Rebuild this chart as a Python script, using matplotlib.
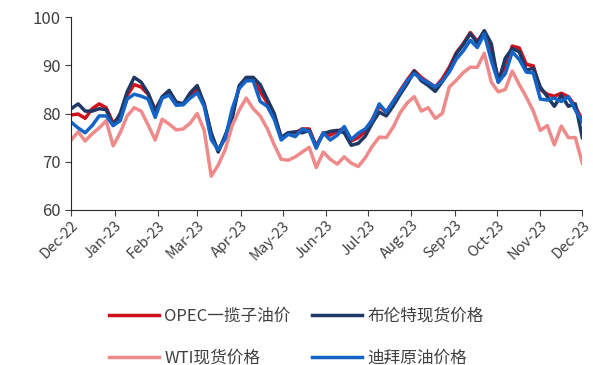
import matplotlib
matplotlib.use('Agg')
import matplotlib.pyplot as plt
import matplotlib.dates as mdates
import pandas as pd

plt.rcParams['font.family'] = ['Liberation Sans Narrow', 'Noto Sans CJK SC', 'DejaVu Sans']

# 数据：每5天取一个点
dates = pd.date_range('2022-12-01', periods=74, freq='5D')

opec = [79.7, 79.9, 79.0, 81.0, 82.0, 81.2, 78.0, 79.5, 83.8, 86.0,
        85.5, 84.0, 80.8, 83.3, 84.3, 82.2, 82.0, 83.8, 85.0, 82.0,
        75.5, 72.3, 75.0, 80.0, 85.5, 87.2, 87.2, 84.5, 82.3, 79.5,
        75.0, 76.0, 76.0, 76.8, 76.8, 73.2, 76.0, 75.5, 76.3, 77.0,
        74.3, 75.0, 76.3, 78.8, 81.5, 80.3, 82.5, 84.8, 87.0, 88.9,
        87.5, 86.5, 85.5, 87.2, 89.6, 92.6, 94.5, 96.8, 95.0, 97.0,
        93.0, 87.2, 89.8, 94.0, 93.6, 90.2, 89.9, 85.0, 84.0, 83.6,
        84.2, 83.5, 81.5, 78.6]

brent = [81.0, 82.0, 80.5, 80.5, 81.0, 80.8, 77.5, 80.0, 84.5, 87.5,
         86.5, 84.2, 80.5, 83.5, 84.8, 82.4, 82.0, 84.3, 85.8, 82.0,
         76.0, 72.0, 75.5, 79.0, 85.8, 87.5, 87.5, 86.0, 83.0, 80.0,
         75.0, 76.0, 76.2, 76.0, 76.5, 73.2, 75.8, 76.3, 76.5, 76.0,
         73.4, 73.8, 75.3, 78.0, 80.3, 79.5, 81.6, 84.0, 86.2, 88.8,
         86.8, 85.8, 84.6, 86.6, 89.0, 92.4, 94.3, 96.6, 94.6, 97.2,
         94.5, 86.5, 91.5, 93.5, 92.8, 89.0, 89.4, 85.5, 83.5, 81.5,
         83.8, 81.5, 82.0, 75.0]

wti = [74.5, 76.2, 74.3, 75.8, 77.0, 78.5, 73.3, 76.0, 79.5, 81.2,
       80.5, 77.6, 74.5, 78.8, 77.8, 76.6, 76.8, 78.0, 80.0, 76.5,
       67.0, 69.3, 72.5, 77.5, 80.7, 83.2, 81.0, 79.5, 76.9, 73.5,
       70.5, 70.3, 71.0, 72.0, 73.0, 68.8, 72.0, 70.5, 69.5, 71.0,
       69.7, 69.0, 70.8, 73.2, 75.1, 75.0, 77.2, 80.2, 82.2, 83.5,
       80.5, 81.2, 79.0, 80.0, 85.5, 86.9, 88.5, 89.6, 89.6, 92.5,
       86.5, 84.5, 85.0, 88.8, 86.0, 83.4, 80.5, 76.5, 77.5, 73.5,
       77.4, 75.0, 75.0, 69.7]

dubai = [78.2, 77.0, 76.0, 77.5, 79.5, 79.5, 77.5, 78.5, 83.0, 84.0,
         83.6, 83.0, 79.2, 83.2, 83.8, 81.7, 81.8, 83.2, 84.3, 81.5,
         74.6, 72.5, 74.8, 81.0, 85.2, 86.8, 86.8, 82.5, 81.5, 78.8,
         74.5, 75.7, 75.2, 76.8, 76.3, 72.8, 76.0, 74.5, 75.5, 77.3,
         74.6, 75.9, 76.8, 78.6, 82.0, 80.3, 82.5, 84.5, 86.8, 88.3,
         87.2, 86.4, 85.5, 86.7, 88.6, 91.3, 93.0, 95.2, 93.7, 96.5,
         91.0, 86.5, 88.3, 92.8, 91.2, 88.6, 88.4, 83.0, 82.8, 83.2,
         82.5, 83.5, 80.7, 78.3]

labels = ['OPEC一揽子油价', 'WTI现货价格', '布伦特现货价格', '迪拜原油价格']

fig = plt.figure(figsize=(5.93, 3.65), dpi=100)
ax = fig.add_axes([0.12, 0.425, 0.862, 0.528])

l1, = ax.plot(dates, opec, color='#D0101C', lw=2.5, label=labels[0])
l3, = ax.plot(dates, brent, color='#1F3864', lw=2.5, label=labels[2])
l2, = ax.plot(dates, wti, color='#EE8A8A', lw=2.5, label=labels[1])
l4, = ax.plot(dates, dubai, color='#1464C8', lw=2.5, label=labels[3])

ax.set_ylim(60, 100)
ax.set_yticks([60, 70, 80, 90, 100])
ax.set_xlim(pd.Timestamp('2022-12-01'), pd.Timestamp('2023-12-01'))
ax.xaxis.set_major_locator(mdates.MonthLocator())
ax.xaxis.set_major_formatter(mdates.DateFormatter('%b-%y'))

ax.spines['top'].set_visible(False)
ax.spines['right'].set_visible(False)
ax.spines['left'].set_color('#262626')
ax.spines['bottom'].set_color('#262626')
ax.tick_params(axis='y', labelsize=12, colors='#404040', length=4, direction='out')
ax.tick_params(axis='x', labelsize=10.5, colors='#404040', length=4, direction='out', pad=2)
for t in ax.get_xticklabels():
    t.set_rotation(45)
    t.set_ha('right')
    t.set_rotation_mode('anchor')

leg = fig.legend([l1, l2, l3, l4], labels, ncol=2, loc='lower center',
                 bbox_to_anchor=(0.5, -0.045), frameon=False,
                 handlelength=3.0, handletextpad=0.3, columnspacing=1.3,
                 labelspacing=1.5,
                 prop={'family': ['Noto Sans CJK SC', 'DejaVu Sans'], 'size': 12})
for t in leg.get_texts():
    t.set_color('#404040')

plt.savefig('out.png', dpi=100)
